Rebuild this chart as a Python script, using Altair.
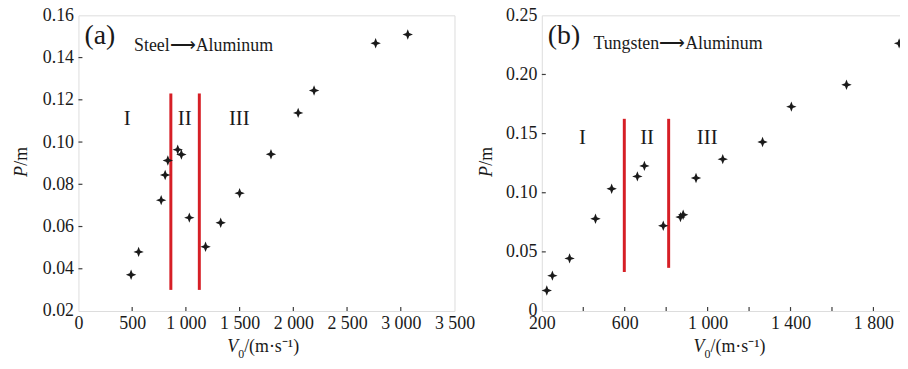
import altair as alt
import pandas as pd

# ---------------- data ----------------
a_v = [490, 560, 770, 807, 832, 924, 958, 1032, 1183, 1324, 1500, 1792, 2045, 2193, 2766, 3065]
a_p = [0.0372, 0.0480, 0.0725, 0.0844, 0.0913, 0.0964, 0.0941, 0.0642, 0.0504, 0.0618,
       0.0758, 0.0942, 0.1138, 0.1244, 0.1468, 0.1509]
b_v = [224, 251, 334, 459, 537, 661, 695, 786, 869, 882, 944, 1073, 1265, 1404, 1670, 1924]
b_p = [0.0174, 0.0299, 0.0445, 0.0780, 0.1034, 0.1138, 0.1227, 0.0721, 0.0794, 0.0814,
       0.1124, 0.1284, 0.1429, 0.1728, 0.1913, 0.2263]

a_sep_x = [860, 1125]
a_sep_lo = [0.030, 0.030]
a_sep_hi = [0.123, 0.123]
b_sep_x = [598, 812]
b_sep_lo = [0.033, 0.0365]
b_sep_hi = [0.1625, 0.1625]

regions = ["I", "II", "III"]
a_reg_x = [453, 989, 1497]
a_reg_y = [0.1107, 0.1107, 0.1107]
b_reg_x = [396, 708, 998]
b_reg_y = [0.1466, 0.1466, 0.1466]

a_xlabels = [0, 500, 1000, 1500, 2000, 2500, 3000, 3500]
a_xticks = [500, 1000, 1500, 2000, 2500, 3000]
a_ylabels = [0.02, 0.04, 0.06, 0.08, 0.10, 0.12, 0.14, 0.16]
a_yticks = [0.04, 0.06, 0.08, 0.10, 0.12, 0.14]
b_xlabels = [200, 600, 1000, 1400, 1800]
b_xticks = [400, 600, 800, 1000, 1200, 1400, 1600, 1800]
b_ylabels = [0, 0.05, 0.10, 0.15, 0.20, 0.25]
b_yticks = [0.05, 0.10, 0.15, 0.20]

FONT = "Liberation Serif"
INK = "#1a1a1a"
FRAME = "#3c3c3c"
RED = "#d61f26"
STAR = "M0,-1L0.28,-0.28L1,0L0.28,0.28L0,1L-0.28,0.28L-1,0L-0.28,-0.28Z"

XFMT = "replace(format(datum.value, ',d'), ',', ' ')"


def panel(v, p, xdom, ydom, w, h, xlabels, xticks, ylabels, yticks, ylabel_expr,
          sep_x, sep_lo, sep_hi, reg_x, reg_y, tag, caption, cap_x, cap_y,
          ytitle_x, xtitle_x):
    xs = alt.Scale(domain=xdom, nice=False, zero=False)
    ys = alt.Scale(domain=ydom, nice=False, zero=False)
    xa = alt.Axis(values=xlabels, labelExpr=XFMT, ticks=False, domain=False, grid=False,
                  title=None, labelPadding=4, labelFont=FONT, labelFontSize=18,
                  labelColor=INK, labelOverlap=False, labelFlush=False)
    ya = alt.Axis(values=ylabels, labelExpr=ylabel_expr, ticks=False, domain=False,
                  grid=False, title=None, labelPadding=5, labelFont=FONT,
                  labelFontSize=18, labelColor=INK, labelOverlap=False, labelFlush=False)
    pts = pd.DataFrame({"v": v, "p": p})

    xt = alt.Chart(pd.DataFrame({"v": xticks})).mark_rule(
        color=FRAME, strokeWidth=1.2
    ).encode(x=alt.X("v:Q", scale=xs, axis=xa), y=alt.value(h), y2=alt.value(h - 4))
    yt = alt.Chart(pd.DataFrame({"p": yticks})).mark_rule(
        color=FRAME, strokeWidth=1.2
    ).encode(y=alt.Y("p:Q", scale=ys, axis=ya), x=alt.value(0), x2=alt.value(4))

    seps = alt.Chart(pd.DataFrame({"x": sep_x, "lo": sep_lo, "hi": sep_hi})).mark_rule(
        color=RED, strokeWidth=3
    ).encode(x=alt.X("x:Q", scale=xs, axis=xa),
             y=alt.Y("lo:Q", scale=ys, axis=ya), y2="hi:Q")

    points = alt.Chart(pts).mark_point(
        shape=STAR, filled=True, size=110, color=INK, opacity=1
    ).encode(
        x=alt.X("v:Q", scale=xs, axis=xa),
        y=alt.Y("p:Q", scale=ys, axis=ya),
    )

    regs = alt.Chart(pd.DataFrame({"x": reg_x, "y": reg_y, "t": regions})).mark_text(
        font=FONT, fontSize=21, color=INK, baseline="middle", align="center"
    ).encode(x=alt.X("x:Q", scale=xs, axis=xa),
             y=alt.Y("y:Q", scale=ys, axis=ya), text="t:N")

    one = alt.Data(values=[{}])

    def txt(s, x, y, size=18, style="normal", align="left", baseline="alphabetic", angle=0):
        return alt.Chart(one).mark_text(
            font=FONT, fontSize=size, fontStyle=style, color=INK, align=align,
            baseline=baseline, angle=angle
        ).encode(x=alt.value(x), y=alt.value(y), text=alt.value(s))

    ann = [
        txt(tag, 6, 29, size=28),
        txt(caption, cap_x, cap_y, size=18),
        # y title  P/m  (rotated)
        txt("P", ytitle_x, 163, style="italic", baseline="middle", angle=270),
        txt("/m", ytitle_x, 151.5, baseline="middle", angle=270),
        # x title  V0/(m·s⁻¹)
        txt("V", xtitle_x, h + 41, style="italic"),
        txt("0", xtitle_x + 11, h + 47, size=12),
        txt("/(m\u00b7s\u207b\u00b9)", xtitle_x + 17, h + 41),
    ]

    return alt.layer(xt, yt, seps, points, regs, *ann).properties(width=w, height=h)


pa = panel(a_v, a_p, [0, 3500], [0.02, 0.16], 379, 298,
           a_xlabels, a_xticks, a_ylabels, a_yticks, "format(datum.value, '.2f')",
           a_sep_x, a_sep_lo, a_sep_hi, a_reg_x, a_reg_y,
           "(a)", "Steel\u27f6Aluminum", 56, 36, -57, 150)

pb = panel(b_v, b_p, [200, 2000], [0, 0.25], 376, 298,
           b_xlabels, b_xticks, b_ylabels, b_yticks,
           "datum.value == 0 ? '0' : format(datum.value, '.2f')",
           b_sep_x, b_sep_lo, b_sep_hi, b_reg_x, b_reg_y,
           "(b)", "Tungsten\u27f6Aluminum", 52, 33.5, -55, 153)

chart = alt.hconcat(pa, pb, spacing=88, bounds="flush").properties(
    padding={"left": 4, "top": -4, "right": -16, "bottom": 0}
).configure_view(stroke=FRAME, strokeWidth=1.3).configure_axis(
    labelFont=FONT, labelFontSize=18, labelColor=INK
).configure(background="white")

chart.save("out.html", embed_options={"renderer": "svg", "actions": False})
